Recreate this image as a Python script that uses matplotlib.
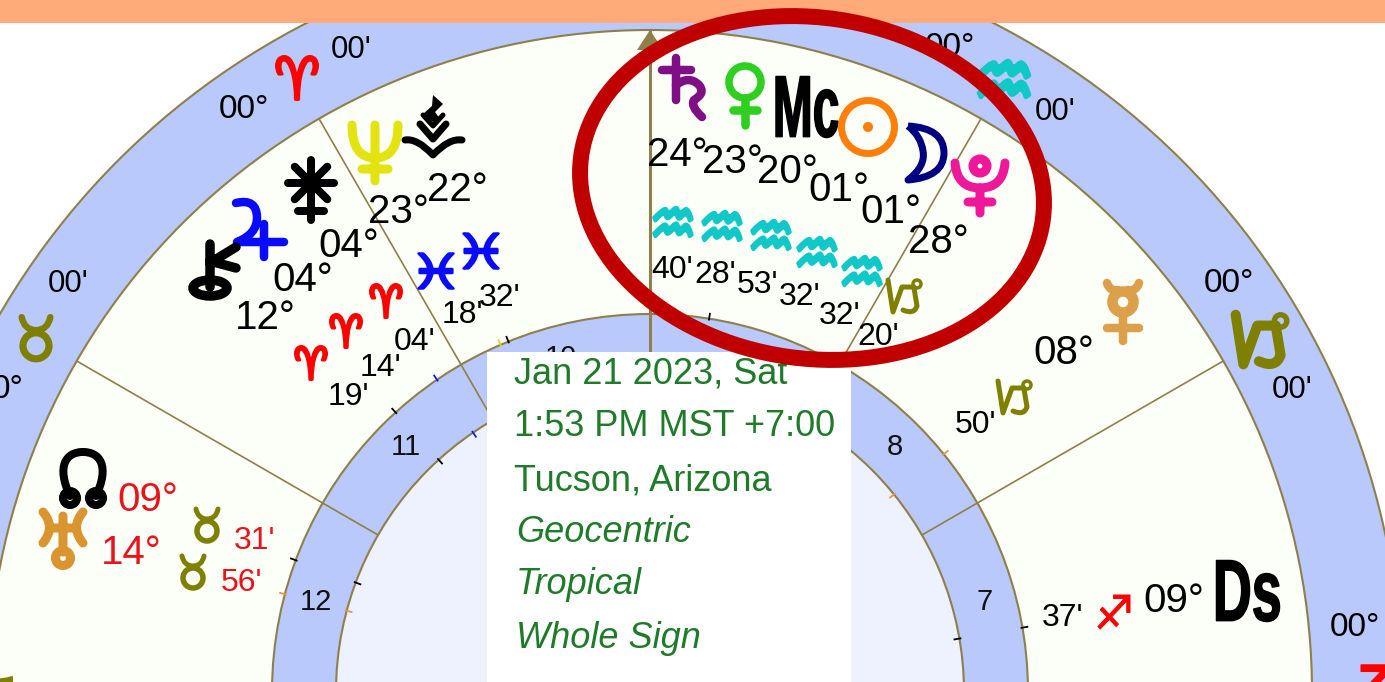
import numpy as np
import matplotlib
matplotlib.use("Agg")
import matplotlib.pyplot as plt
from matplotlib.patches import Circle, Ellipse, Rectangle, Polygon, PathPatch
from matplotlib.path import Path
from matplotlib.transforms import Affine2D
from matplotlib.patheffects import AbstractPathEffect

# ---- chart content ----
house_numbers = ["7", "8", "9", "10", "11", "12"]
house_angles = [75, 45, 15, -15, -45, -75]
cusp_angles = [-90, -60, -30, 0, 30, 60, 90]
tick_angles = [-75, -69.6, -42.3, -34.3, -23.3, -22, 9, 51, 80.2]
tick_colors = ["#e8964a", "black", "black", "#1a1ae0", "#e6d020", "black", "black", "#e8964a", "black"]
degree_texts = ["24°", "23°", "20°", "01°", "01°", "28°", "12°", "04°", "04°", "23°", "22°", "08°", "09°"]
minute_texts = ["40'", "28'", "53'", "32'", "32'", "20'", "19'", "14'", "04'", "18'", "32'", "50'", "37'"]
red_texts = ["09°", "14°", "31'", "56'"]
ring_texts = ["00°", "00'", "00'", "0°", "00°", "00'", "00°", "00'", "00°"]
info_lines = ["Jan 21 2023, Sat", "1:53 PM MST +7:00", "Tucson, Arizona"]
info_italic = ["Geocentric", "Tropical", "Whole Sign"]
sign_chars = ["♒"] * 5 + ["♈", "♈", "♈", "♈", "♓", "♓", "♐", "♐", "♒", "♊"]
sign_colors = ["#10c8c8"] * 5 + ["red"] * 4 + ["#0a0aff"] * 2 + ["red", "red", "#10c8c8", "#808000"]

# ---- placement ----
CX, CY = 650, 692
R_OUT, R_GREEN, R_H_OUT, R_H_IN = 752, 662, 378, 314
LINE = "#8f7f4a"
degree_xy = [(677,155),(732,162),(787,172),(839,190),(891,212),(938,242),(265,318),(303,280),(349,246),(398,212),(457,190),(1064,353),(1174,601)]
minute_xy = [(672,270),(715,275),(758,285),(800,297),(840,316),(878,337),(348,397),(380,368),(415,342),(462,315),(500,298),(976,425),(1063,618)]
red_xy = [(148,500),(131,553),(255,541),(242,583)]
ring_xy = [(244,110),(351,50),(68,284),(8,390),(1229,284),(1292,390),(1355,628),(1055,112),(950,48)]
sign_xy = [(673,222),(722,226),(771,235),(817,252),(862,271),
           (311,363),(346,331),(386,301),(297,78),(436,271),(481,251),(1114,612),(1362,696),(1004,79),(-8,702)]
sign_box = [(38,29)]*5 + [(31,33)]*3 + [(41,43)] + [(35,35)]*2 + [(32,34),(60,62),(50,36),(40,50)]
sign_stroke = [3.5]*5 + [3]*4 + [2.5]*2 + [1,1.5,4.5,2]
taurus_xy = [(207,525),(193,572),(36,338)]
taurus_scale = [1.0,1.0,1.3]
capricorn_xy = [(905,295),(1015,396),(1262,338)]
capricorn_scale = [1.0,1.0,1.55]

fig = plt.figure(figsize=(13.85, 6.82), dpi=100, facecolor="white")
ax = fig.add_axes([0, 0, 1, 1])
ax.set_xlim(0, 1385)
ax.set_ylim(682, 0)
ax.axis("off")
PX = 72 / 100


class FitBox(AbstractPathEffect):
    """Stretches a text's outline to a box in picture pixels."""
    def __init__(self, xy, w, h, stroke=0.0):
        super().__init__()
        self.xy, self.w, self.h, self.stroke = xy, w, h, stroke

    def draw_path(self, renderer, gc, tpath, affine, rgbFace=None):
        b = tpath.get_extents()
        aff = (Affine2D().translate(-(b.x0 + b.x1) / 2, -(b.y0 + b.y1) / 2)
               .scale(self.w / b.width, self.h / b.height)
               .translate(self.xy[0], 682 - self.xy[1]))
        g = renderer.new_gc()
        g.copy_properties(gc)
        g.set_linewidth(self.stroke * PX)
        g.set_foreground(rgbFace)
        g.set_joinstyle("round")
        renderer.draw_path(g, tpath, aff, rgbFace)
        g.restore()


def polar(r, deg):
    a = np.radians(deg)
    return CX + r * np.sin(a), CY - r * np.cos(a)


for r, col in [(R_OUT, "#b9c9fb"), (R_GREEN, "#fbfff7"), (R_H_OUT, "#b9c9fb"), (R_H_IN, "#edf2fe")]:
    ax.add_patch(Circle((CX, CY), r, fc=col, ec=LINE, lw=1.5, zorder=1))

for d in cusp_angles:
    x0, y0 = polar(R_H_IN, d)
    x1, y1 = polar(R_GREEN, d)
    ax.plot([x0, x1], [y0, y1], color=LINE, lw=2.2 if d == 0 else 1.2, zorder=2)
xt, yt = polar(R_GREEN, 0)
ax.add_patch(Polygon([(xt, yt), (xt - 13, yt + 20), (xt + 13, yt + 20)], fc=LINE, ec="none", zorder=2))

for d, c in zip(tick_angles, tick_colors):
    for r0, r1 in [(R_H_OUT - 1, R_H_OUT + 5), (R_H_IN + 1, R_H_IN - 5)]:
        a, b = polar(r0, d), polar(r1, d)
        ax.plot([a[0], b[0]], [a[1], b[1]], color=c, lw=1.3, zorder=2)

for n, d in zip(house_numbers, house_angles):
    x, y = polar(346, d)
    ax.text(x, y, n, fontsize=21, family="Liberation Sans", ha="center", va="center", color="#111", zorder=3)


def txt(xy, s, size, color="black", **kw):
    return ax.text(xy[0], xy[1], s, fontsize=size, color=color, ha="center", va="center", zorder=4,
                   family=kw.pop("family", "Liberation Sans"), **kw)


for s, xy in zip(degree_texts, degree_xy):
    txt(xy, s, 29)
for s, xy in zip(minute_texts, minute_xy):
    txt(xy, s, 23)
for i, (s, xy) in enumerate(zip(red_texts, red_xy)):
    txt(xy, s, 29 if i < 2 else 23, "#e8141c")
for s, xy in zip(ring_texts, ring_xy):
    txt(xy, s, 24 if "°" in s else 22.5)

for s, c, xy, box, st in zip(sign_chars, sign_colors, sign_xy, sign_box, sign_stroke):
    t = txt(xy, s, 30, c, family="DejaVu Sans")
    t.set_path_effects([FitBox(xy, box[0], box[1], stroke=st)])

for xy, s, box in [((807, 107), "Mc", (62, 61)), ((1248, 591), "Ds", (63, 61))]:
    t = txt(xy, s, 40, "black", weight="bold")
    t.set_path_effects([FitBox(xy, box[0], box[1], stroke=1.5)])


# ---- drawn astrological signs (outlines in pixels around an anchor) ----
def stroke(d, xy, color, lw, s=1.0):
    tok = d.split()
    verts, codes, i = [], [], 0
    n = {"M": (1, Path.MOVETO), "L": (1, Path.LINETO), "Q": (2, Path.CURVE3), "C": (3, Path.CURVE4)}
    while i < len(tok):
        cnt, code = n[tok[i]]
        i += 1
        for _ in range(cnt):
            verts.append((xy[0] + s * float(tok[i]), xy[1] + s * float(tok[i + 1])))
            codes.append(code)
            i += 2
    ax.add_patch(PathPatch(Path(verts, codes), fc="none", ec=color, lw=lw * s * PX, capstyle="round",
                           joinstyle="round", zorder=4))


def ring(xy, dx, dy, rx, ry, color, lw, s=1.0):
    ax.add_patch(Ellipse((xy[0] + s * dx, xy[1] + s * dy), 2 * s * rx, 2 * s * ry, fc="none", ec=color,
                         lw=lw * s * PX, zorder=4))


OLIVE = "#808000"
for xy, s in zip(capricorn_xy, capricorn_scale):
    w = 5 if s == 1.0 else 6.5
    stroke("M -17 -15 L -12 17 L -3 -8 L 9 -8", xy, OLIVE, w, s)
    ring(xy, 12, -11, 4, 4, OLIVE, 3.5, s)
    stroke("M 9 -7 L 12 11 Q 9 20 -2 15", xy, OLIVE, w, s)
for xy, s in zip(taurus_xy, taurus_scale):
    ring(xy, 0, 6, 10, 10, OLIVE, 5.5, s)
    stroke("M -11 -16 Q -9 -6 0 -6 Q 9 -6 11 -16", xy, OLIVE, 5, s)

saturn = "#800f85"
stroke("M -8 -29 L -8 13 M -22 -17 L 7 -17 M -8 -2 Q 5 -12 15 -2 Q 22 6 10 13 Q 6 19 18 30", (684, 87), saturn, 8.5)
venus = "#2fcf1f"
ring((745, 95), 0, -13, 16, 16, venus, 7.5)
stroke("M 0 3 L 0 30 M -12 15 L 12 15", (745, 95), venus, 8.5)
sun = "#ff7f0a"
ring((868, 127), 0, 0, 26.5, 26.5, sun, 7)
ax.add_patch(Circle((868, 127), 5, fc=sun, ec="none", zorder=4))
moon = "#000080"
ax.add_patch(PathPatch(Path([(908, 126), (944, 128), (944, 153), (944, 177), (908, 180), (926, 166), (923, 151), (921, 136), (908, 126)],
                            [Path.MOVETO] + [Path.CURVE3] * 8), fc="#fbfff7", ec=moon, lw=7 * PX, joinstyle="round", zorder=4))
pluto = "#f0189a"
stroke("M -25 -22 Q -23 3 0 3 Q 23 3 25 -22 M 0 3 L 0 28 M -12 17 L 12 17", (980, 185), pluto, 9)
ring((980, 185), 0, -19, 7, 7, pluto, 9)
jup = "#0a0aff"
stroke("M -24 -27 Q -3 -32 -3 -12 Q -3 4 -23 12 L 24 12 M 4 -6 L 4 27", (260, 230), jup, 8.5)
chi = "black"
stroke("M 0 -23 L 0 20 M 0 -4 L 26 -20 M 0 -6 L 26 1", (210, 267), chi, 9.5)
ring((210, 267), 0, 21, 17, 8, chi, 9.5)
cer = (311, 190)
for a in range(0, 180, 45):
    dx, dy = 23 * np.cos(np.radians(a)), 23 * np.sin(np.radians(a))
    stroke(f"M {-dx} {-7 - dy} L {dx} {-7 + dy}", cer, "black", 8)
stroke("M 0 -7 L 0 30 M -13 21 L 13 21", cer, "black", 8)
nep = "#e3e310"
stroke("M -23 -28 Q -23 5 0 5 Q 23 5 23 -28 M 0 -28 L 0 28 M -13 16 L 13 16", (375, 153), nep, 9)
lil = (433, 125)
stroke("M -28 15 Q -16 13 0 30 Q 16 13 29 15", lil, "black", 7)
stroke("M -13 -1 L 0 14 L 13 -1", lil, "black", 7)
stroke("M -10 -10 L 0 1 L 10 -10", lil, "black", 5)
ax.add_patch(Polygon([(lil[0] + a, lil[1] + b) for a, b in [(0, -30), (10, -21), (2, -13), (7, -6), (0, -3), (-10, -11), (-1, -19)]],
                     fc="black", ec="none", zorder=4))
node = (83, 478)
stroke("M -13 18 C -27 -12 -17 -26 0 -26 C 17 -26 27 -12 13 18", node, "black", 8)
for dx in (-13, 13):
    ring(node, dx, 20, 7, 7, "black", 8)
ura = "#da9430"
stroke("M -20 -28 Q -7 -13 -20 3 M 20 -28 Q 7 -13 20 3 M -12 -12 L 12 -12 M 0 -24 L 0 12", (63, 540), ura, 9)
ring((63, 540), 0, 18, 7.5, 7.5, ura, 9)
mer = "#dca04a"
stroke("M -16 -28 Q -13 -19 -5 -21 M 16 -28 Q 13 -19 5 -21 M 0 4 L 0 30 M -16 17 L 16 17", (1123, 311), mer, 8.5)
ring((1123, 311), 0, -9, 10.5, 10.5, mer, 10.5)

# info box
ax.add_patch(Rectangle((487, 352), 364, 330, fc="white", ec="none", zorder=5))
GREEN = "#1f7a2a"
for s, y in zip(info_lines, [374, 426, 481]):
    ax.text(514, y, s, fontsize=26, color=GREEN, family="Liberation Sans", va="center", zorder=6)
for s, y in zip(info_italic, [532, 585, 639]):
    ax.text(516, y, s, fontsize=26, color=GREEN, family="Liberation Sans", style="italic", va="center", zorder=6)

# top bar and red ellipse
ax.add_patch(Rectangle((0, 0), 1385, 23, fc="#ffaa78", ec="none", zorder=7))
ax.add_patch(Ellipse((812, 188), 466, 341, angle=8, fc="none", ec="#c00000", lw=11.5, zorder=8))

fig.savefig("out.png", dpi=100)
